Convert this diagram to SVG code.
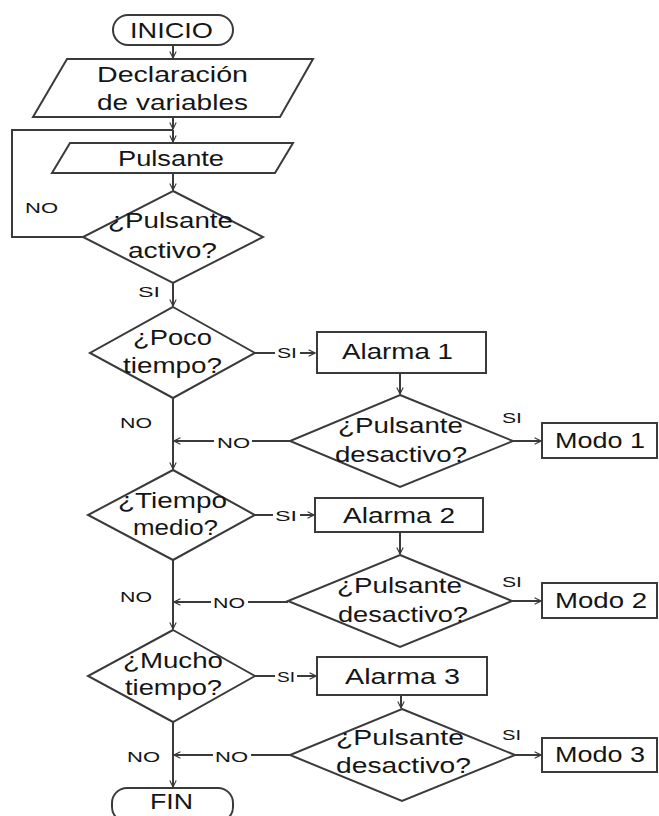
<svg xmlns="http://www.w3.org/2000/svg" width="659" height="816" viewBox="0 0 659 816">
<defs>
<marker id="arr" viewBox="0 0 10 10" refX="9" refY="5" markerWidth="8" markerHeight="8" markerUnits="userSpaceOnUse" orient="auto">
<path d="M1,1 L9,5 L1,9" fill="none" stroke="#3a3a3a" stroke-width="1.4"/>
</marker>
</defs>
<style>
.s{fill:#fff;stroke:#3a3a3a;stroke-width:2}
.c{fill:none;stroke:#3a3a3a;stroke-width:2}
.t{font-family:"Liberation Sans",Arial,sans-serif;font-size:22px;fill:#151515}
.l{font-family:"Liberation Sans",Arial,sans-serif;font-size:15px;fill:#151515}
</style>
<rect width="659" height="816" fill="#fff"/>
<g id="connectors">
<line class="c" x1="173" y1="45" x2="173" y2="58" marker-end="url(#arr)"/>
<line class="c" x1="173" y1="117" x2="173" y2="129" marker-end="url(#arr)"/>
<polyline class="c" points="83,237 12,237 12,130 173,130"/>
<line class="c" x1="173" y1="130" x2="173" y2="142" marker-end="url(#arr)"/>
<line class="c" x1="173" y1="173" x2="173" y2="190" marker-end="url(#arr)"/>
<line class="c" x1="173" y1="283" x2="173" y2="306" marker-end="url(#arr)"/>
<line class="c" x1="173" y1="398" x2="173" y2="469" marker-end="url(#arr)"/>
<line class="c" x1="173" y1="560" x2="173" y2="629" marker-end="url(#arr)"/>
<line class="c" x1="173" y1="722" x2="173" y2="787" marker-end="url(#arr)"/>
<line class="c" x1="255" y1="353" x2="315" y2="353" marker-end="url(#arr)"/>
<line class="c" x1="255" y1="515" x2="314" y2="515" marker-end="url(#arr)"/>
<line class="c" x1="255" y1="676" x2="316" y2="676" marker-end="url(#arr)"/>
<line class="c" x1="400" y1="373" x2="400" y2="394" marker-end="url(#arr)"/>
<line class="c" x1="400" y1="532" x2="400" y2="554" marker-end="url(#arr)"/>
<line class="c" x1="401" y1="695" x2="401" y2="708" marker-end="url(#arr)"/>
<line class="c" x1="513" y1="441" x2="541" y2="441" marker-end="url(#arr)"/>
<line class="c" x1="512" y1="601" x2="541" y2="601" marker-end="url(#arr)"/>
<line class="c" x1="515" y1="755" x2="541" y2="755" marker-end="url(#arr)"/>
<line class="c" x1="290" y1="441" x2="174" y2="441" marker-end="url(#arr)"/>
<line class="c" x1="288" y1="602" x2="174" y2="602" marker-end="url(#arr)"/>
<line class="c" x1="290" y1="755" x2="174" y2="755" marker-end="url(#arr)"/>
<rect x="214" y="434" width="38" height="14" fill="#fff"/>
<rect x="211" y="595" width="37" height="14" fill="#fff"/>
<rect x="213" y="748" width="38" height="14" fill="#fff"/>
<rect x="275" y="346" width="25" height="14" fill="#fff"/>
<rect x="273" y="508" width="27" height="14" fill="#fff"/>
<rect x="275" y="669" width="22" height="14" fill="#fff"/>
<text class="l" x="25" y="213" textLength="33" lengthAdjust="spacingAndGlyphs">NO</text>
<text class="l" x="138" y="297" textLength="22" lengthAdjust="spacingAndGlyphs">SI</text>
<text class="l" x="277" y="358" textLength="20" lengthAdjust="spacingAndGlyphs">SI</text>
<text class="l" x="275" y="521" textLength="22" lengthAdjust="spacingAndGlyphs">SI</text>
<text class="l" x="277" y="682" textLength="18" lengthAdjust="spacingAndGlyphs">SI</text>
<text class="l" x="120" y="428" textLength="32" lengthAdjust="spacingAndGlyphs">NO</text>
<text class="l" x="120" y="602" textLength="32" lengthAdjust="spacingAndGlyphs">NO</text>
<text class="l" x="127" y="762" textLength="33" lengthAdjust="spacingAndGlyphs">NO</text>
<text class="l" x="217" y="448" textLength="33" lengthAdjust="spacingAndGlyphs">NO</text>
<text class="l" x="213" y="608" textLength="32" lengthAdjust="spacingAndGlyphs">NO</text>
<text class="l" x="215" y="762" textLength="33" lengthAdjust="spacingAndGlyphs">NO</text>
<text class="l" x="502" y="423" textLength="20" lengthAdjust="spacingAndGlyphs">SI</text>
<text class="l" x="502" y="587" textLength="20" lengthAdjust="spacingAndGlyphs">SI</text>
<text class="l" x="502" y="740" textLength="19" lengthAdjust="spacingAndGlyphs">SI</text>
</g>
<g id="inicio">
<rect class="s" x="113" y="15" width="120" height="30" rx="15"/>
<text class="t" x="130" y="38" textLength="83" lengthAdjust="spacingAndGlyphs">INICIO</text>
</g>
<g id="declaracion">
<polygon class="s" points="67,59 313,59 280,117 33,117"/>
<text class="t" x="97" y="82" textLength="151" lengthAdjust="spacingAndGlyphs">Declaración</text>
<text class="t" x="97" y="110" textLength="151" lengthAdjust="spacingAndGlyphs">de variables</text>
</g>
<g id="pulsante">
<polygon class="s" points="70,143 293,143 275,173 52,173"/>
<text class="t" x="118" y="166" textLength="106" lengthAdjust="spacingAndGlyphs">Pulsante</text>
</g>
<g id="pulsante-activo">
<polygon class="s" points="173,191 263,237 173,283 83,237"/>
<text class="t" x="108" y="228" textLength="125" lengthAdjust="spacingAndGlyphs">¿Pulsante</text>
<text class="t" x="128" y="258" textLength="89" lengthAdjust="spacingAndGlyphs">activo?</text>
</g>
<g id="poco-tiempo">
<polygon class="s" points="173,307 255,353 173,398 90,353"/>
<text class="t" x="133" y="345" textLength="79" lengthAdjust="spacingAndGlyphs">¿Poco</text>
<text class="t" x="123" y="373" textLength="99" lengthAdjust="spacingAndGlyphs">tiempo?</text>
</g>
<g id="tiempo-medio">
<polygon class="s" points="173,470 255,515 173,560 88,515"/>
<text class="t" x="118" y="508" textLength="109" lengthAdjust="spacingAndGlyphs">¿Tiempo</text>
<text class="t" x="133" y="535" textLength="85" lengthAdjust="spacingAndGlyphs">medio?</text>
</g>
<g id="mucho-tiempo">
<polygon class="s" points="173,630 255,676 173,722 88,676"/>
<text class="t" x="123" y="668" textLength="100" lengthAdjust="spacingAndGlyphs">¿Mucho</text>
<text class="t" x="125" y="695" textLength="97" lengthAdjust="spacingAndGlyphs">tiempo?</text>
</g>
<g id="alarma1">
<rect class="s" x="317" y="332" width="169" height="41"/>
<text class="t" x="342" y="359" textLength="111" lengthAdjust="spacingAndGlyphs">Alarma 1</text>
</g>
<g id="alarma2">
<rect class="s" x="315" y="498" width="168" height="34"/>
<text class="t" x="343" y="523" textLength="112" lengthAdjust="spacingAndGlyphs">Alarma 2</text>
</g>
<g id="alarma3">
<rect class="s" x="317" y="657" width="170" height="38"/>
<text class="t" x="345" y="684" textLength="115" lengthAdjust="spacingAndGlyphs">Alarma 3</text>
</g>
<g id="desactivo1">
<polygon class="s" points="400,395 513,441 400,487 290,441"/>
<text class="t" x="338" y="433" textLength="125" lengthAdjust="spacingAndGlyphs">¿Pulsante</text>
<text class="t" x="335" y="462" textLength="132" lengthAdjust="spacingAndGlyphs">desactivo?</text>
</g>
<g id="desactivo2">
<polygon class="s" points="400,555 512,601 400,647 288,601"/>
<text class="t" x="337" y="593" textLength="125" lengthAdjust="spacingAndGlyphs">¿Pulsante</text>
<text class="t" x="338" y="622" textLength="130" lengthAdjust="spacingAndGlyphs">desactivo?</text>
</g>
<g id="desactivo3">
<polygon class="s" points="402,709 515,755 402,801 290,755"/>
<text class="t" x="336" y="745" textLength="128" lengthAdjust="spacingAndGlyphs">¿Pulsante</text>
<text class="t" x="336" y="773" textLength="135" lengthAdjust="spacingAndGlyphs">desactivo?</text>
</g>
<g id="modo1">
<rect class="s" x="542" y="423" width="115" height="35"/>
<text class="t" x="555" y="448" textLength="90" lengthAdjust="spacingAndGlyphs">Modo 1</text>
</g>
<g id="modo2">
<rect class="s" x="542" y="583" width="115" height="35"/>
<text class="t" x="555" y="608" textLength="92" lengthAdjust="spacingAndGlyphs">Modo 2</text>
</g>
<g id="modo3">
<rect class="s" x="542" y="738" width="115" height="34"/>
<text class="t" x="555" y="762" textLength="90" lengthAdjust="spacingAndGlyphs">Modo 3</text>
</g>
<g id="fin">
<rect class="s" x="112" y="788" width="121" height="34" rx="15"/>
<text class="t" x="150" y="809" textLength="43" lengthAdjust="spacingAndGlyphs">FIN</text>
</g>
</svg>
